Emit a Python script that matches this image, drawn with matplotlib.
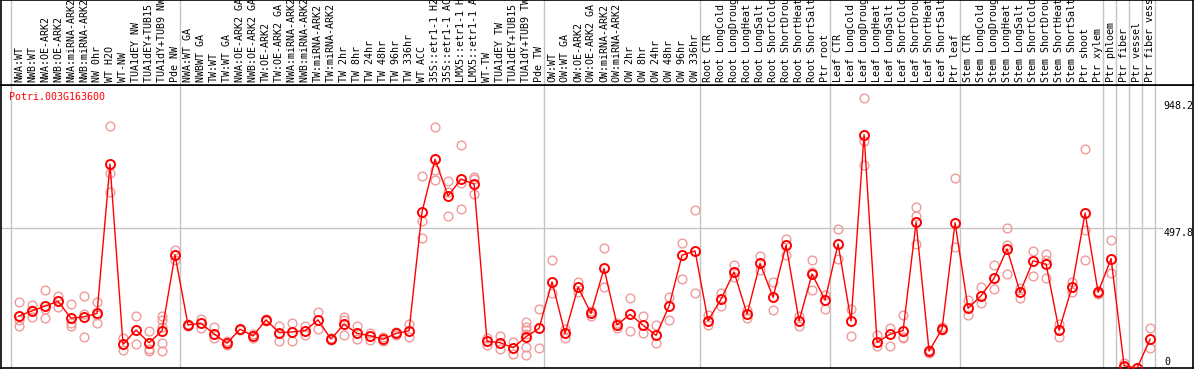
import numpy as np
import matplotlib
matplotlib.use("Agg")
import matplotlib.pyplot as plt

gene = "Potri.003G163600"

labels = [
    "NWA:WT", "NWB:WT", "NWA:OE-ARK2", "NWB:OE-ARK2", "NWA:miRNA-ARK2", "NWB:miRNA-ARK2",
    "NW 0hr", "WT H2O", "WT-NW", "TUA1dEY NW", "TUA1dEY+TUB15 NW", "TUA1dY+TUB9 NW", "Pde NW",
    "NWA:WT GA", "NWBWT GA", "TW:WT", "TW:WT GA", "NWA:OE-ARK2 GA", "NWB:OE-ARK2 GA",
    "TW:OE-ARK2", "TW:OE-ARK2 GA", "NWA:miRNA-ARK2 GA", "NWB:miRNA-ARK2 GA", "TW:miRNA-ARK2",
    "TW:miRNA-ARK2 GA", "TW 2hr", "TW 8hr", "TW 24hr", "TW 48hr", "TW 96hr", "TW 336hr",
    "WT ACC", "35S::etr1-1 H2O", "35S::etr1-1 ACC", "LMX5::etr1-1 H2O", "LMX5::etr1-1 ACC",
    "WT-TW", "TUA1dEY TW", "TUA1dEY+TUB15 TW", "TUA1dY+TUB9 TW", "Pde TW",
    "OW:WT", "OW:WT GA", "OW:OE-ARK2", "OW:OE-ARK2 GA", "OW:miRNA-ARK2", "OW:miRNA-ARK2 GA",
    "OW 2hr", "OW 8hr", "OW 24hr", "OW 48hr", "OW 96hr", "OW 336hr",
    "Root CTR", "Root LongCold", "Root LongDrought", "Root LongHeat", "Root LongSalt",
    "Root ShortCold", "Root ShortDrought", "Root ShortHeat", "Root ShortSalt", "Ptr root",
    "Leaf CTR", "Leaf LongCold", "Leaf LongDrought", "Leaf LongHeat", "Leaf LongSalt",
    "Leaf ShortCold", "Leaf ShortDrought", "Leaf ShortHeat", "Leaf ShortSalt", "Ptr leaf",
    "Stem CTR", "Stem LongCold", "Stem LongDrought", "Stem LongHeat", "Stem LongSalt",
    "Stem ShortCold", "Stem ShortDrought", "Stem ShortHeat", "Stem ShortSalt", "Ptr shoot",
    "Ptr xylem", "Ptr phloem", "Ptr fiber", "Ptr vessel", "Ptr fiber vessel",
]

means = [
    185, 203, 220, 237, 177, 182, 194, 725, 84, 135, 90, 132, 402,
    153, 159, 121, 88, 138, 114, 171, 126, 128, 133, 171, 103, 156, 123, 115, 102, 123, 132,
    555, 742, 612, 671, 654, 95, 90, 72, 111, 141,
    306, 123, 287, 194, 354, 153, 191, 152, 116, 220, 401, 416,
    168, 245, 341, 192, 372, 251, 437, 168, 334, 242,
    441, 167, 829, 91, 120, 133, 518, 60, 139, 516,
    212, 257, 319, 423, 269, 381, 369, 134, 289, 551, 269,
    389, 8, 0, 102,
]

reps = [
    [234, 171, 149], [224, 205, 182], [276, 209, 177], [256, 237, 218], [228, 161, 149],
    [256, 191, 109], [234, 188, 159], [861, 692, 626], [106, 64], [185, 85], [132, 66, 62],
    [185, 170, 147, 90, 60], [420, 384],
    [156, 150], [174, 141], [145, 106], [95, 80], [140, 136], [120, 106], [174, 168],
    [149, 97], [159, 95], [149, 118], [199, 140], [106, 100], [182, 171, 118], [149, 104],
    [126, 100], [110, 96], [127, 118], [155, 109], [682, 522, 461], [856, 704, 669],
    [665, 627, 541], [793, 657, 565], [678, 672, 619], [106, 82], [114, 69], [94, 49],
    [162, 146, 134, 122, 76, 46], [209, 71],
    [384, 266], [140, 106], [307, 271], [203, 186], [426, 287], [141, 160], [248, 133],
    [185, 123], [153, 90], [254, 171], [443, 315], [562, 266],
    [188, 153], [266, 220], [366, 322], [205, 177], [398, 350], [307, 206], [459, 402],
    [186, 150], [384, 340, 277], [260, 209],
    [493, 387], [210, 115], [959, 807, 722], [117, 79], [143, 78], [188, 108, 110],
    [574, 542, 440], [52, 65], [147, 135], [675, 431],
    [242, 188], [289, 230], [366, 281], [497, 437, 333], [250, 285], [417, 328],
    [405, 385, 321], [155, 110], [305, 269], [779, 490, 384], [275, 262],
    [455, 337], [17, 2], [0], [142, 70],
]

# last column of each group (separators drawn just right of it)
group_ends = [-1, 12, 40, 52, 62, 72, 83, 84, 85, 86, 87]
ticks = [948.2, 497.8]

W, H = 1194, 370
fig = plt.figure(figsize=(W / 100, H / 100), dpi=100)
mono = "DejaVu Sans Mono"
fs = 7.2

x = np.arange(len(labels))
xlim = (-1.385, 90.3)
ymax = 1006

ax = fig.add_axes([1 / W, 2 / H, 1192 / W, 283 / H])
hdr = fig.add_axes([1 / W, 285 / H, 1192 / W, 85 / H])
for a in (ax, hdr):
    a.set_xlim(*xlim)
    a.set_xticks([])
    a.set_yticks([])
    for s in a.spines.values():
        s.set_color("black")
        s.set_linewidth(1.2)
    for g in group_ends:
        a.axvline(g + 0.4, color="#c4c4c4", lw=1.0, zorder=0)
ax.set_ylim(0, ymax)
hdr.set_ylim(0, 1)

for i, lab in enumerate(labels):
    hdr.text(i, 0.03, lab, rotation=90, ha="center", va="bottom",
             fontsize=fs, family=mono, color="black")

ax.axhline(497.8, xmax=(1162 - 1) / 1192, color="#c4c4c4", lw=1.0, zorder=0)

for i, r in enumerate(reps):
    ax.plot([i] * len(r), r, "o", ms=6.3, mfc="none", mec="#f09a9a", mew=1.0, zorder=2)
ax.plot(x, means, "-", color="red", lw=1.0, zorder=3)
ax.plot(x, means, "o", ms=6.5, mfc="none", mec="red", mew=1.4, zorder=4)

for t in ticks:
    ax.text(88.0, t, f"{t}", ha="left", va="top", fontsize=fs, family=mono)
ax.text(88.3, 5, "0", ha="center", va="bottom", fontsize=fs, family=mono)

ax.text(0.007, 0.958, gene, transform=ax.transAxes, ha="left", va="center",
        fontsize=fs, family=mono, color="red")

fig.savefig("out.png", dpi=100)
